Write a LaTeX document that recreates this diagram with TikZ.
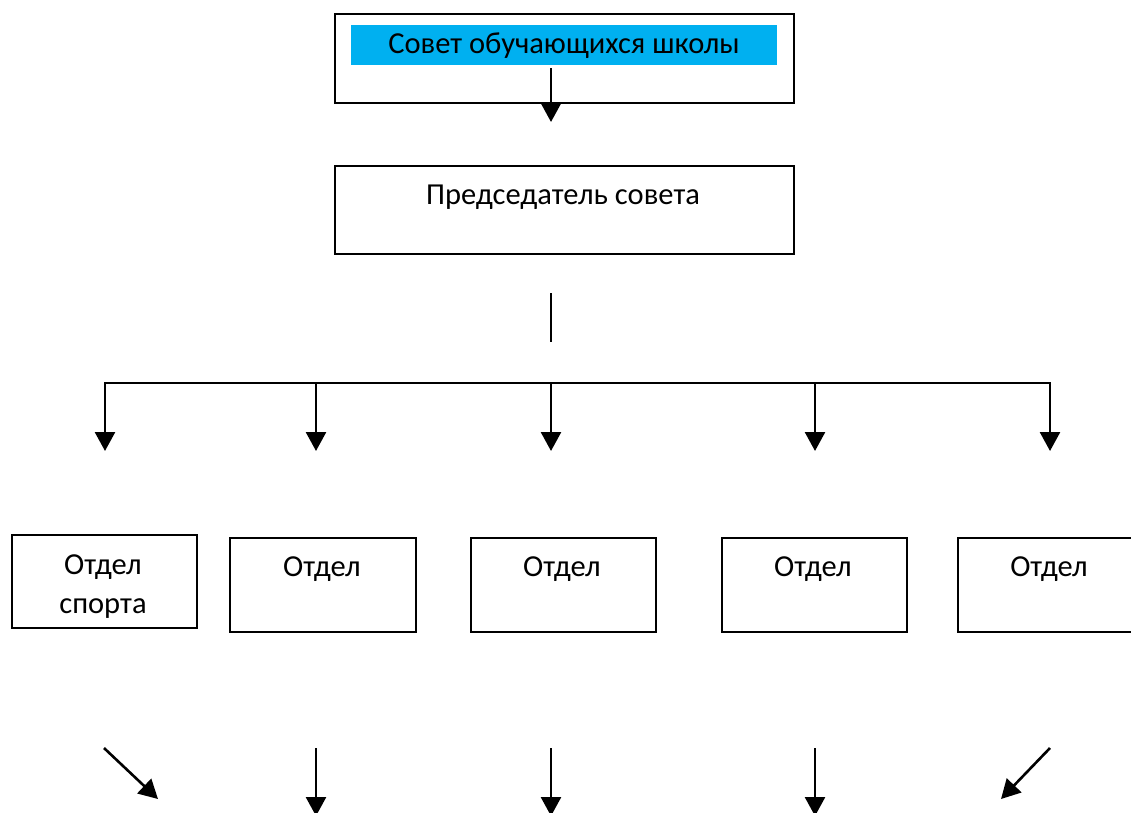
\documentclass[tikz,border=0pt]{standalone}
\usepackage{fontspec}
\setmainfont{Carlito}
\usetikzlibrary{arrows.meta}
\definecolor{wordblue}{HTML}{00B0F0}
\begin{document}
\begin{tikzpicture}[x=1pt,y=-1pt,
  box/.style={draw=black,line width=2pt,anchor=north west,inner sep=0pt},
  lbl/.style={font=\fontsize{30.5}{36}\selectfont,inner sep=0pt},
  conn/.style={line width=2.6pt,-{Triangle[width=20pt,length=19pt]}},
  plain/.style={line width=2.6pt}]
\useasboundingbox (0,0) rectangle (1131,812);
% top box
\node[box,minimum width=459pt,minimum height=89pt] (sovet) at (334,13) {};
\node[fill=wordblue,anchor=north west,minimum width=426pt,minimum height=40pt,inner sep=0pt] (sovetfill) at (351,25) {};
\node[lbl] (sovettxt) at (564,46) {Совет обучающихся школы};
% chairman box
\node[box,minimum width=459pt,minimum height=88pt] (pred) at (334,165) {};
\node[lbl] (predtxt) at (563,197) {Председатель совета};
% departments
\node[box,minimum width=185pt,minimum height=93pt] (d1) at (11,534) {};
\node[box,minimum width=186pt,minimum height=94pt] (d2) at (229,537) {};
\node[box,minimum width=185pt,minimum height=94pt] (d3) at (470,537) {};
\node[box,minimum width=185pt,minimum height=94pt] (d4) at (721,537) {};
\node[box,minimum width=190pt,minimum height=94pt] (d5) at (957,537) {};
\node[lbl] (t1a) at (103,567) {Отдел};
\node[lbl] (t1b) at (103,609) {спорта};
\node[lbl] (t2) at (322,569) {Отдел};
\node[lbl] (t3) at (562,569) {Отдел};
\node[lbl] (t4) at (813,569) {Отдел};
\node[lbl] (t5) at (1049,569) {Отдел};
% coordinates
\coordinate (a0s) at (551,68);
\coordinate (a0e) at (551,122);
\coordinate (l0s) at (551,293);
\coordinate (l0e) at (551,342);
\coordinate (busL) at (104,383);
\coordinate (busR) at (1051,383);
\foreach \i/\x in {1/105,2/316,3/551,4/815,5/1050}{
  \coordinate (bs\i) at (\x,382);
  \coordinate (be\i) at (\x,451);
}
\coordinate (bot1s) at (104,748);
\coordinate (bot1e) at (158,799);
\coordinate (bot2s) at (316,748);
\coordinate (bot2e) at (316,816);
\coordinate (bot3s) at (551,748);
\coordinate (bot3e) at (551,816);
\coordinate (bot4s) at (815,748);
\coordinate (bot4e) at (815,816);
\coordinate (bot5s) at (1050,748);
\coordinate (bot5e) at (1001,799);
% connectors
\draw[conn] (a0s) -- (a0e);
\draw[plain] (l0s) -- (l0e);
\draw[plain] (busL) -- (busR);
\foreach \i in {1,...,5}{\draw[conn] (bs\i) -- (be\i);}
\foreach \i in {1,...,5}{\draw[conn] (bot\i s) -- (bot\i e);}
\end{tikzpicture}
\end{document}
